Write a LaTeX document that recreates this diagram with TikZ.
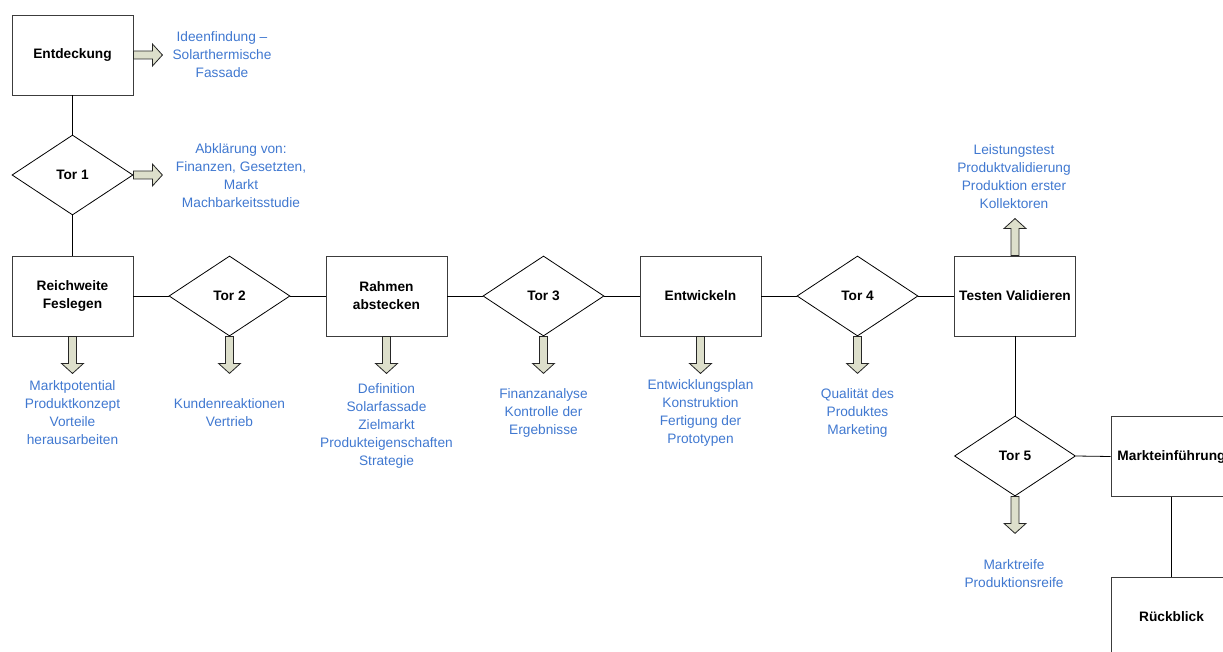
\documentclass[tikz,border=0pt]{standalone}
\usepackage{fontspec}
\setmainfont{Liberation Sans}
\usetikzlibrary{shapes.geometric}
\definecolor{txtblue}{RGB}{64,120,208}
\definecolor{arrowfill}{RGB}{221,223,203}
\definecolor{boxline}{RGB}{60,60,60}
\tikzset{
  stepbox/.style={draw=boxline, line width=0.9pt, fill=white, minimum width=121pt, minimum height=80pt, inner sep=0pt, align=center, font=\fontsize{13.7}{18}\selectfont\bfseries},
  gate/.style={diamond, draw=black, line width=0.8pt, fill=white, minimum width=121pt, minimum height=80pt, inner sep=0pt, font=\fontsize{13.7}{18}\selectfont\bfseries},
  note/.style={text=txtblue, align=center, inner sep=0pt, font=\fontsize{13.7}{18}\selectfont},
  conn/.style={draw=black, line width=0.8pt},
  barrow/.style={draw=black!85, fill=arrowfill, line width=0.8pt, line join=miter},
}
\newcommand\blockarr[3]{%
  \draw[barrow, shift={(#1)}, rotate=#2] (0,-4) -- ({#3-10},-4) -- ({#3-10},-11) -- (#3,0) -- ({#3-10},11) -- ({#3-10},4) -- (0,4) -- cycle;}
\begin{document}
\begin{tikzpicture}[x=1pt,y=-1pt]
\useasboundingbox (0,0) rectangle (1223,652);
\clip (0,0) rectangle (1223,652);
% connectors first
\coordinate (cEnt) at (72.5,55);
\coordinate (cT1) at (72.5,175);
\coordinate (cRw) at (72.5,296);
\coordinate (cT2) at (229.5,296);
\coordinate (cRa) at (386.5,296);
\coordinate (cT3) at (543.5,296);
\coordinate (cEw) at (700.5,296);
\coordinate (cT4) at (857.5,296);
\coordinate (cTe) at (1015,296);
\coordinate (cT5) at (1015,456);
\coordinate (cMe) at (1171.5,456.5);
\coordinate (cRb) at (1171.5,617);

\node[stepbox] (ent) at (cEnt) {Entdeckung};
\node[gate] (t1) at (cT1) {Tor 1};
\node[stepbox] (rw) at (cRw) {Reichweite\\Feslegen};
\node[gate] (t2) at (cT2) {Tor 2};
\node[stepbox] (ra) at (cRa) {Rahmen\\abstecken};
\node[gate] (t3) at (cT3) {Tor 3};
\node[stepbox] (ew) at (cEw) {Entwickeln};
\node[gate] (t4) at (cT4) {Tor 4};
\node[stepbox] (te) at (cTe) {Testen Validieren};
\node[gate] (t5) at (cT5) {Tor 5};
\node[stepbox] (me) at (cMe) {Markteinführung};
\node[stepbox] (rb) at (cRb) {Rückblick};

\draw[conn] (ent.south) -- (t1.north);
\draw[conn] (t1.south) -- (rw.north);
\draw[conn] (rw.east) -- (t2.west);
\draw[conn] (t2.east) -- (ra.west);
\draw[conn] (ra.east) -- (t3.west);
\draw[conn] (t3.east) -- (ew.west);
\draw[conn] (ew.east) -- (t4.west);
\draw[conn] (t4.east) -- (te.west);
\draw[conn] (te.south) -- (t5.north);
\draw[conn] (t5.east) -- (me.west);
\draw[conn] (me.south) -- (rb.north);

% block arrows
\blockarr{ent.east}{0}{29}
\blockarr{t1.east}{0}{29}
\blockarr{rw.south}{-90}{37}
\blockarr{t2.south}{-90}{37}
\blockarr{ra.south}{-90}{37}
\blockarr{t3.south}{-90}{37}
\blockarr{ew.south}{-90}{37}
\blockarr{t4.south}{-90}{37}
\blockarr{te.north}{90}{37}
\blockarr{t5.south}{-90}{37}

% notes
\node[note] (nEnt) at (222,55) {Ideenfindung –\\Solarthermische\\Fassade};
\node[note] (nT1) at (241,176) {Abklärung von:\\Finanzen, Gesetzten,\\Markt\\Machbarkeitsstudie};
\node[note] (nRw) at (72.5,413) {Marktpotential\\Produktkonzept\\Vorteile\\herausarbeiten};
\node[note] (nT2) at (229.5,413) {Kundenreaktionen\\Vertrieb};
\node[note] (nRa) at (386.5,426) {Definition\\Solarfassade\\Zielmarkt\\Produkteigenschaften\\Strategie};
\node[note] (nT3) at (543.5,413) {Finanzanalyse\\Kontrolle der\\Ergebnisse};
\node[note] (nEw) at (700.5,413) {Entwicklungsplan\\Konstruktion\\Fertigung der\\Prototypen};
\node[note] (nT4) at (857.5,413) {Qualität des\\Produktes\\Marketing};
\node[note] (nTe) at (1014,177) {Leistungstest\\Produktvalidierung\\Produktion erster\\Kollektoren};
\node[note] (nT5) at (1014,574) {Marktreife\\Produktionsreife};
\end{tikzpicture}
\end{document}
